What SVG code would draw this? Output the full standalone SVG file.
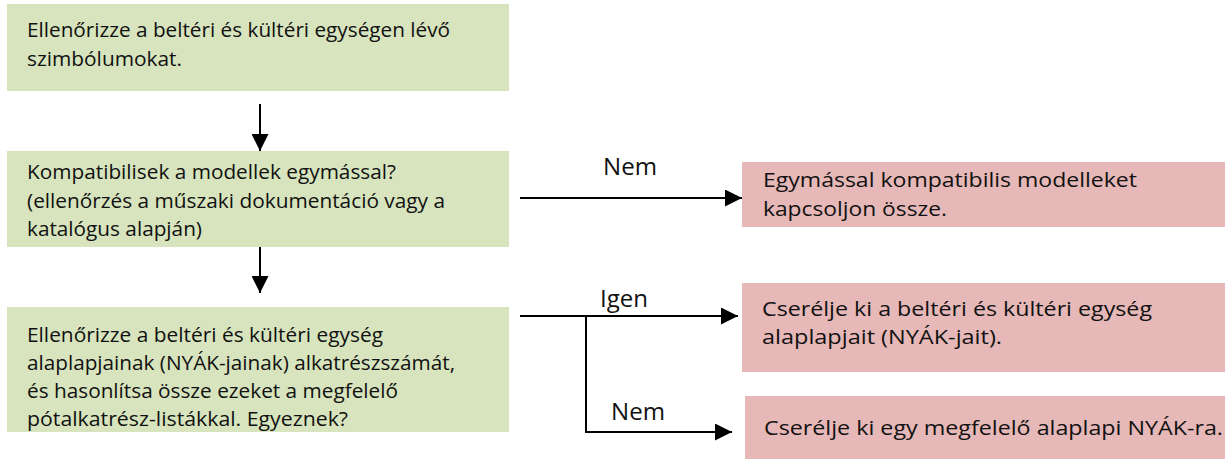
<svg xmlns="http://www.w3.org/2000/svg" width="1225" height="459" viewBox="0 0 1225 459">
  <style>
    .step { fill: #D7E4BD; }
    .fix { fill: #E6B8B7; }
    text { font-family: "Open Sans", Lato, "Liberation Sans", sans-serif; fill: #111111; }
    .t { font-size: 19.5px; }
    .r { font-size: 20.5px; }
    .lbl { font-size: 23px; }
    .wire { stroke: #000000; stroke-width: 2; fill: none; }
  </style>
  <defs>
    <marker id="head" markerUnits="userSpaceOnUse" markerWidth="17" markerHeight="17" viewBox="0 0 16 16" refX="16" refY="8" orient="auto">
      <path d="M0,0 L16,8 L0,16 Z" fill="#000000"/>
    </marker>
  </defs>

  <g id="check-symbols">
    <rect class="step" x="7" y="4" width="502" height="87"/>
    <text class="t" x="27" y="37" textLength="423" lengthAdjust="spacingAndGlyphs">Ellenőrizze a beltéri és kültéri egységen lévő</text>
    <text class="t" x="27" y="66" textLength="155" lengthAdjust="spacingAndGlyphs">szimbólumokat.</text>
  </g>

  <g id="compatible">
    <rect class="step" x="7" y="151" width="502" height="96"/>
    <text class="t" x="27" y="179" textLength="369" lengthAdjust="spacingAndGlyphs">Kompatibilisek a modellek egymással?</text>
    <text class="t" x="27" y="208" textLength="418" lengthAdjust="spacingAndGlyphs">(ellenőrzés a műszaki dokumentáció vagy a</text>
    <text class="t" x="27" y="236" textLength="175" lengthAdjust="spacingAndGlyphs">katalógus alapján)</text>
  </g>

  <g id="check-boards">
    <rect class="step" x="7" y="307" width="502" height="125"/>
    <text class="t" x="27" y="342" textLength="356" lengthAdjust="spacingAndGlyphs">Ellenőrizze a beltéri és kültéri egység</text>
    <text class="t" x="27" y="370" textLength="428" lengthAdjust="spacingAndGlyphs">alaplapjainak (NYÁK-jainak) alkatrészszámát,</text>
    <text class="t" x="27" y="398" textLength="371" lengthAdjust="spacingAndGlyphs">és hasonlítsa össze ezeket a megfelelő</text>
    <text class="t" x="27" y="426" textLength="321" lengthAdjust="spacingAndGlyphs">pótalkatrész-listákkal. Egyeznek?</text>
  </g>

  <g id="connect-compatible">
    <rect class="fix" x="742" y="162" width="483" height="65"/>
    <text class="r" x="763" y="187" textLength="374" lengthAdjust="spacingAndGlyphs">Egymással kompatibilis modelleket</text>
    <text class="r" x="763" y="216" textLength="184" lengthAdjust="spacingAndGlyphs">kapcsoljon össze.</text>
  </g>

  <g id="replace-boards">
    <rect class="fix" x="742" y="283" width="483" height="89"/>
    <text class="r" x="762" y="316" textLength="390" lengthAdjust="spacingAndGlyphs">Cserélje ki a beltéri és kültéri egység</text>
    <text class="r" x="762" y="344" textLength="240" lengthAdjust="spacingAndGlyphs">alaplapjait (NYÁK-jait).</text>
  </g>

  <g id="replace-matching">
    <rect class="fix" x="745" y="396" width="480" height="63"/>
    <text class="r" x="764" y="435" textLength="459" lengthAdjust="spacingAndGlyphs">Cserélje ki egy megfelelő alaplapi NYÁK-ra.</text>
  </g>

  <g id="connectors">
    <line class="wire" x1="260" y1="104" x2="260" y2="151" marker-end="url(#head)"/>
    <line class="wire" x1="260" y1="247" x2="260" y2="293" marker-end="url(#head)"/>
    <line class="wire" x1="520" y1="198" x2="742" y2="198" marker-end="url(#head)"/>
    <line class="wire" x1="520" y1="316" x2="738" y2="316" marker-end="url(#head)"/>
    <polyline class="wire" points="586,316 586,432 732,432" marker-end="url(#head)"/>
    <text class="lbl" x="603" y="175" textLength="54" lengthAdjust="spacingAndGlyphs">Nem</text>
    <text class="lbl" x="600" y="307" textLength="48" lengthAdjust="spacingAndGlyphs">Igen</text>
    <text class="lbl" x="611" y="420" textLength="54" lengthAdjust="spacingAndGlyphs">Nem</text>
  </g>
</svg>
